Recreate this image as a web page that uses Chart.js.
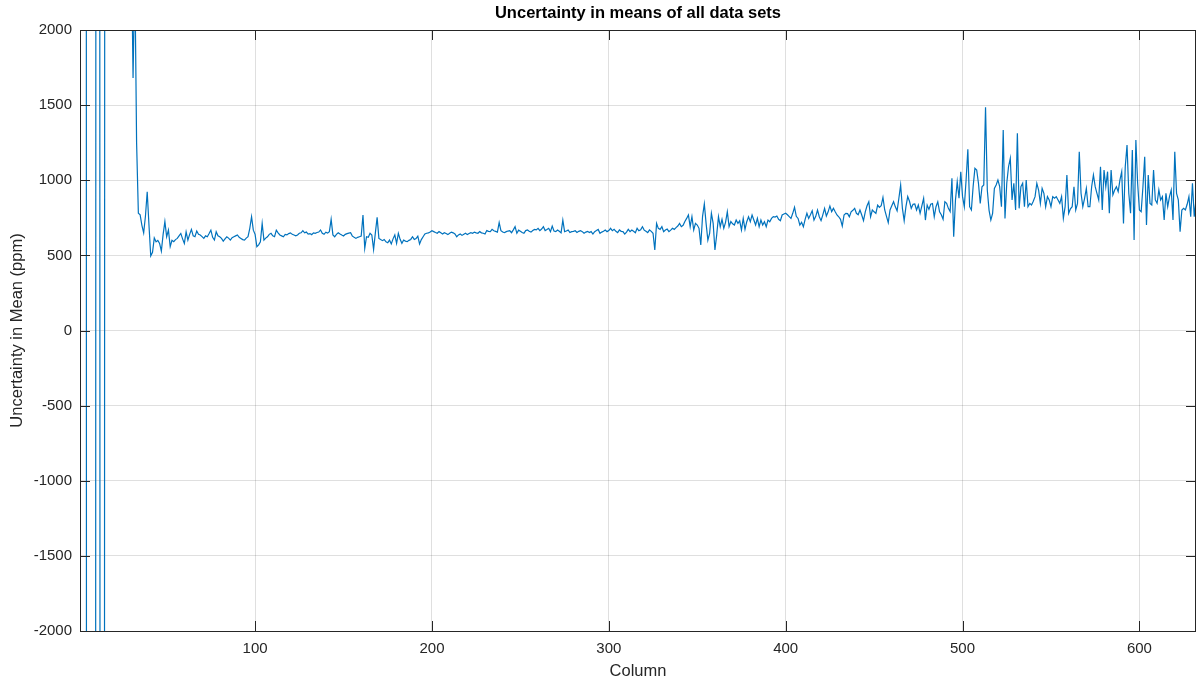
<!DOCTYPE html>
<html>
<head>
<meta charset="utf-8">
<script src="https://cdn.jsdelivr.net/npm/chart.js@4"></script>
<style>
  html, body { margin: 0; padding: 0; background: #fff; }
  canvas { display: block; }
</style>
</head>
<body>
<canvas id="grafico" width="1196" height="680"></canvas>
<script>
// uncertainty in mean (ppm) per column
// (first 30 columns are off the scale, only the crossings are visible)
const incerteza = [
    40000, 40000, 40000, 40000, -25000, -40000, -40000, -40000, -40000, 4000,
    40000, 10000, -30000, -40000, 4000, 40000, 40000, 40000, 40000, 40000,
    40000, 40000, 40000, 40000, 40000, 40000, 40000, 40000, 40000, 2600,
    1680, 2400, 1250, 780, 770, 700, 650, 760, 924, 700,
    496, 520, 616, 590, 600, 580, 528, 640, 725, 624,
    669, 558, 600, 591, 605, 613, 630, 646, 610, 580,
    657, 602, 640, 673, 630, 624, 662, 640, 636, 625,
    613, 630, 624, 645, 668, 620, 602, 657, 630, 624,
    613, 595, 610, 624, 615, 602, 618, 624, 630, 636,
    620, 613, 605, 602, 615, 624, 680, 757, 668, 640,
    558, 570, 591, 713, 602, 615, 624, 640, 647, 630,
    624, 668, 650, 636, 630, 624, 640, 636, 645, 650,
    640, 636, 630, 636, 647, 650, 664, 650, 655, 642,
    645, 638, 650, 647, 652, 655, 669, 647, 640, 654,
    648, 658, 740, 636, 624, 640, 651, 642, 635, 629,
    640, 645, 648, 651, 628, 620, 613, 620, 624, 628,
    769, 547, 624, 620, 647, 636, 540, 650, 753, 613,
    605, 598, 606, 590, 584, 602, 576, 610, 636, 580,
    647, 607, 580, 602, 595, 591, 600, 606, 624, 606,
    612, 628, 576, 605, 624, 642, 647, 650, 655, 664,
    658, 652, 647, 658, 650, 642, 651, 645, 638, 647,
    655, 650, 642, 624, 636, 642, 633, 640, 647, 638,
    645, 651, 647, 655, 650, 647, 658, 650, 647, 642,
    665, 660, 658, 673, 664, 660, 655, 718, 664, 655,
    651, 658, 662, 664, 651, 670, 691, 647, 668, 660,
    652, 647, 665, 669, 660, 655, 665, 673, 670, 680,
    665, 675, 691, 665, 672, 680, 658, 695, 662, 658,
    669, 660, 650, 735, 658, 662, 669, 652, 658, 660,
    664, 652, 660, 665, 658, 647, 655, 660, 652, 658,
    642, 658, 665, 673, 647, 655, 660, 669, 658, 665,
    680, 664, 673, 660, 651, 669, 660, 658, 642, 655,
    673, 658, 669, 660, 651, 680, 664, 670, 691, 668,
    660, 651, 669, 660, 647, 536, 713, 680, 673, 691,
    658, 669, 675, 658, 668, 680, 673, 685, 695, 713,
    691, 700, 725, 746, 769, 691, 758, 669, 713, 702,
    680, 569, 760, 842, 713, 602, 647, 780, 713, 536,
    636, 758, 691, 740, 680, 720, 791, 691, 725, 710,
    702, 735, 713, 730, 669, 746, 673, 724, 757, 724,
    769, 735, 702, 746, 691, 735, 702, 724, 691, 735,
    724, 746, 758, 755, 762, 740, 731, 769, 775, 780,
    770, 758, 746, 780, 820, 760, 746, 702, 720, 691,
    740, 780, 746, 770, 797, 735, 760, 802, 757, 731,
    770, 813, 762, 790, 829, 791, 813, 790, 769, 757,
    740, 695, 769, 780, 778, 757, 790, 800, 813, 780,
    770, 802, 769, 731, 790, 830, 857, 757, 802, 790,
    780, 835, 820, 830, 886, 802, 760, 718, 802, 830,
    857, 823, 797, 880, 968, 813, 731, 824, 891, 860,
    813, 840, 842, 802, 835, 780, 830, 880, 735, 835,
    806, 840, 845, 757, 824, 857, 790, 770, 740, 857,
    846, 813, 791, 1013, 624, 868, 990, 880, 1057, 891,
    824, 1000, 1206, 824, 802, 960, 1079, 1068, 980, 846,
    957, 968, 1485, 935, 800, 735, 780, 946, 968, 1002,
    957, 824, 1334, 746, 980, 1090, 1146, 869, 980, 802,
    1312, 813, 957, 980, 824, 1002, 824, 846, 835, 860,
    891, 980, 935, 846, 946, 913, 824, 891, 869, 824,
    891, 880, 891, 869, 846, 891, 746, 824, 1035, 780,
    810, 824, 957, 802, 846, 1190, 913, 824, 880, 946,
    824, 824, 957, 1035, 957, 913, 869, 1090, 802, 1068,
    957, 1057, 780, 1068, 902, 935, 957, 924, 1002, 1057,
    713, 1090, 1235, 913, 780, 1201, 602, 1268, 980, 802,
    791, 957, 1157, 702, 1035, 846, 835, 1068, 869, 846,
    935, 869, 891, 735, 913, 824, 891, 935, 735, 1190,
    913, 869, 658, 802, 813, 802, 840, 891, 758, 980,
    758, 869
];

const colunas = incerteza.map((v, i) => i + 1);
const ticksX = [100, 200, 300, 400, 500, 600];
const ticksY = [-2000, -1500, -1000, -500, 0, 500, 1000, 1500, 2000];

const corEixo = "#262626";
const corGrade = "rgba(38, 38, 38, 0.15)";
const fonte = "'Liberation Sans', Arial, Helvetica, sans-serif";

// matlab style box with inward ticks
const moldura = {
    id: "moldura",
    afterDraw(chart) {
        const { ctx, chartArea: a, scales } = chart;
        ctx.save();
        ctx.strokeStyle = corEixo;
        ctx.lineWidth = 1;
        ctx.beginPath();
        ticksX.forEach(v => {
            const px = Math.round(scales.x.getPixelForValue(v)) + 0.5;
            ctx.moveTo(px, a.bottom);
            ctx.lineTo(px, a.bottom - 10);
            ctx.moveTo(px, a.top);
            ctx.lineTo(px, a.top + 10);
        });
        ticksY.forEach(v => {
            const py = Math.round(scales.y.getPixelForValue(v)) + 0.5;
            ctx.moveTo(a.left, py);
            ctx.lineTo(a.left + 10, py);
            ctx.moveTo(a.right, py);
            ctx.lineTo(a.right - 10, py);
        });
        ctx.stroke();
        ctx.strokeRect(Math.round(a.left) + 0.5, Math.round(a.top) + 0.5,
            Math.round(a.right - a.left) - 1, Math.round(a.bottom - a.top));
        ctx.restore();
    }
};

new Chart(document.getElementById("grafico"), {
    type: "line",
    data: {
        labels: colunas,
        datasets: [{
            data: incerteza,
            borderColor: "#0072BD",
            borderWidth: 1.2,
            pointRadius: 0,
            tension: 0,
            fill: false
        }]
    },
    options: {
        responsive: false,
        animation: false,
        layout: { padding: 0 },
        plugins: {
            legend: { display: false },
            tooltip: { enabled: false },
            title: {
                display: true,
                fullSize: false,
                text: "Uncertainty in means of all data sets",
                color: "#000",
                font: { family: fonte, size: 16.5, weight: "bold", lineHeight: 1.2 },
                padding: { top: 4, bottom: 6.2 }
            }
        },
        scales: {
            x: {
                type: "linear",
                min: 1,
                max: 632,
                afterBuildTicks(s) { s.ticks = ticksX.map(v => ({ value: v })); },
                afterFit(s) { s.height = 49; },
                grid: { color: corGrade, drawTicks: false },
                border: { display: false },
                ticks: {
                    color: corEixo,
                    padding: 9,
                    maxRotation: 0,
                    autoSkip: false,
                    font: { family: fonte, size: 15 },
                    callback: v => String(v)
                },
                title: {
                    display: true,
                    text: "Column",
                    color: corEixo,
                    font: { family: fonte, size: 16.5, lineHeight: 1 },
                    padding: { top: 0, bottom: 0 }
                }
            },
            y: {
                min: -2000,
                max: 2000,
                afterBuildTicks(s) { s.ticks = ticksY.map(v => ({ value: v })); },
                afterFit(s) { s.width = 80; },
                grid: { color: corGrade, drawTicks: false },
                border: { display: false },
                ticks: {
                    color: corEixo,
                    padding: 8,
                    font: { family: fonte, size: 15 },
                    callback: v => String(v)
                },
                title: {
                    display: true,
                    text: "Uncertainty in Mean (ppm)",
                    color: corEixo,
                    font: { family: fonte, size: 16.5, lineHeight: 1.2 },
                    padding: { top: 8, bottom: 0 }
                }
            }
        }
    },
    plugins: [moldura]
});
</script>
</body>
</html>
